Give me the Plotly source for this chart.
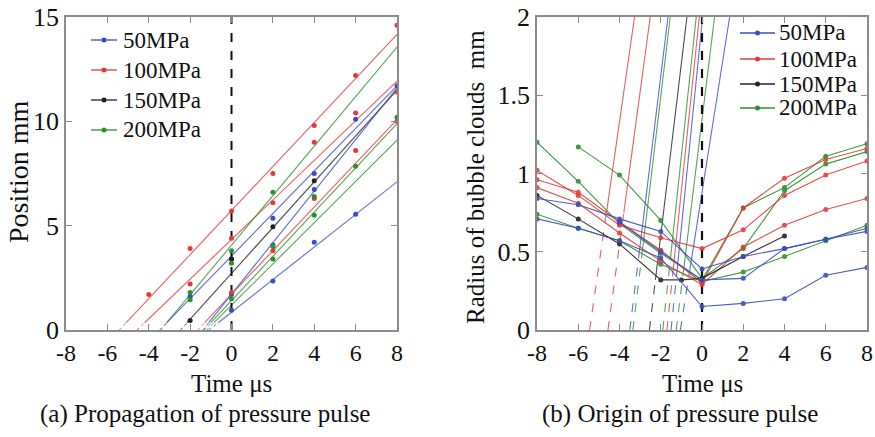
import plotly.graph_objects as go

# ---------------- data ----------------
series_names = ["50MPa", "100MPa", "150MPa", "200MPa"]
series_colors = ["#3b4cc0", "#e23b3b", "#222222", "#2f8f2f"]

time_ticks = [-8, -6, -4, -2, 0, 2, 4, 6, 8]
time_tick_labels = ["-8", "-6", "-4", "-2", "0", "2", "4", "6", "8"]
pos_ticks = [0, 5, 10, 15]
rad_ticks = [0, 0.5, 1, 1.5, 2]
rad_tick_labels = ["0", "0.5", "1", "1.5", "2"]

# (a) fitted propagation lines: series index, start time (at y=0.35), position at t=8
fit_series = [1, 1, 3, 0, 2, 1, 0, 3, 3, 0]
fit_start_t = [-5.09, -4.2, -3.13, -3.13, -2.15, -1.3, -1.1, -1.0, -0.85, -0.64]
fit_end_pos = [14.17, 11.93, 13.56, 11.7, 11.5, 10.08, 11.6, 9.89, 9.1, 7.1]
fit_start_pos = 0.35

# (a) measured points per series
pos_t_50 = [-2, 0, 2, 4, 6, 8, 0, 2, 4, 0, 2, 4, 6]
pos_y_50 = [1.6, 3.4, 5.35, 7.5, 10.1, 11.7, 1.7, 4.07, 6.73, 0.95, 2.35, 4.2, 5.55]
pos_t_100 = [-4, -2, 0, 2, 4, 6, 8, -2, 0, 2, 4, 6, 8, 0, 2, 4, 6, 8]
pos_y_100 = [1.7, 3.9, 5.7, 7.5, 9.8, 12.2, 14.6, 2.2, 4.4, 6.1, 9.0, 10.4, 11.4, 1.8, 3.8, 6.3, 8.6, 10.0]
pos_t_150 = [-2, 0, 2, 4]
pos_y_150 = [0.45, 3.4, 4.95, 7.15]
pos_t_200 = [-2, -2, 0, 0, 2, 0, 2, 4, 6, 8, 2, 4]
pos_y_200 = [1.8, 1.45, 3.8, 3.2, 6.6, 1.5, 3.4, 5.5, 7.85, 10.2, 4.0, 6.4]

# (b) radius curves: series index, times, radii
rad_series = [3, 3, 3, 1, 1, 1, 2, 0, 0, 0]
rad_t = [
    [-8, -6, -4, -2, 0, 2, 4, 6, 8],
    [-6, -4, -2, 0, 2, 4, 6, 8],
    [-8, -6, -4, -2, 0, 2, 4, 6, 8],
    [-8, -6, -4, -2, 0, 2, 4, 6, 8],
    [-8, -6, -4, -2, 0, 2, 4, 6, 8],
    [-8, -6, -4, -2, 0, 2, 4, 6, 8],
    [-8, -6, -4, -2, -1, 0, 2, 4],
    [-8, -6, -4, -2, 0, 2, 4, 6, 8],
    [-8, -6, -4, -2, 0, 2, 4, 6, 8],
    [-4, -2, 0, 2, 4, 6, 8],
]
rad_r = [
    [1.20, 0.95, 0.68, 0.49, 0.32, 0.78, 0.91, 1.11, 1.19],
    [1.17, 0.99, 0.70, 0.33, 0.52, 0.89, 1.06, 1.14],
    [0.74, 0.65, 0.57, 0.42, 0.31, 0.37, 0.47, 0.57, 0.67],
    [1.02, 0.86, 0.67, 0.59, 0.52, 0.64, 0.86, 0.99, 1.08],
    [0.96, 0.88, 0.69, 0.51, 0.30, 0.78, 0.97, 1.09, 1.16],
    [0.91, 0.81, 0.62, 0.44, 0.29, 0.53, 0.67, 0.77, 0.84],
    [0.86, 0.71, 0.55, 0.32, 0.32, 0.33, 0.47, 0.60],
    [0.84, 0.80, 0.71, 0.63, 0.39, 0.47, 0.52, 0.58, 0.63],
    [0.71, 0.65, 0.57, 0.46, 0.15, 0.17, 0.20, 0.35, 0.40],
    [0.69, 0.50, 0.32, 0.33, 0.52, 0.58, 0.65],
]

# (b) steep origin lines: series index, time at r=0, time at r=2, radius where dashes end
orig_series = [1, 1, 0, 3, 2, 3, 1, 0, 3, 0]
orig_t_bottom = [-5.45, -4.56, -3.5, -3.35, -2.55, -1.9, -1.7, -1.5, -1.25, -1.05]
orig_t_top = [-3.27, -2.51, -1.65, -1.54, -0.73, -0.28, -0.13, 0.03, 0.61, 1.34]
orig_r_break = [0.75, 0.75, 0.5, 0.5, 0.32, 0.45, 0.4, 0.38, 0.35, 0.35]

# ---------------- figure ----------------
FONT = "Liberation Serif, Times New Roman, serif"
W, H = 875, 437
fig = go.Figure()

# (a) dashed extensions and fitted lines
for s, t0, y8 in zip(fit_series, fit_start_t, fit_end_pos):
    slope = (y8 - fit_start_pos) / (8 - t0)
    t_int = t0 - fit_start_pos / slope
    c = series_colors[s]
    fig.add_trace(go.Scatter(x=[t_int, t0], y=[0, fit_start_pos], mode="lines",
                             line=dict(color=c, width=1, dash="dot"), opacity=0.75,
                             showlegend=False, hoverinfo="skip", xaxis="x", yaxis="y"))
    fig.add_trace(go.Scatter(x=[t0, 8], y=[fit_start_pos, y8], mode="lines",
                             line=dict(color=c, width=1.2), opacity=0.75,
                             showlegend=False, hoverinfo="skip", xaxis="x", yaxis="y"))

fig.add_trace(go.Scatter(x=[0, 0], y=[0, 15], mode="lines",
                         line=dict(color="#111111", width=2, dash="dash"),
                         showlegend=False, hoverinfo="skip", xaxis="x", yaxis="y"))

pts = [(pos_t_50, pos_y_50), (pos_t_100, pos_y_100), (pos_t_150, pos_y_150), (pos_t_200, pos_y_200)]
for i, (tx, ty) in enumerate(pts):
    fig.add_trace(go.Scatter(x=tx, y=ty, mode="markers",
                             marker=dict(color=series_colors[i], size=5),
                             showlegend=False, xaxis="x", yaxis="y"))

# (b) steep origin lines
for s, tb, tt, rb in zip(orig_series, orig_t_bottom, orig_t_top, orig_r_break):
    c = series_colors[s]
    t_break = tb + (tt - tb) * rb / 2.0
    fig.add_trace(go.Scatter(x=[tb, t_break], y=[0, rb], mode="lines",
                             line=dict(color=c, width=1.1, dash="dash"), opacity=0.8,
                             showlegend=False, hoverinfo="skip", xaxis="x2", yaxis="y2"))
    fig.add_trace(go.Scatter(x=[t_break, tt], y=[rb, 2], mode="lines",
                             line=dict(color=c, width=1.1), opacity=0.8,
                             showlegend=False, hoverinfo="skip", xaxis="x2", yaxis="y2"))

fig.add_trace(go.Scatter(x=[0, 0], y=[0, 2], mode="lines",
                         line=dict(color="#111111", width=2.2, dash="dash"),
                         showlegend=False, hoverinfo="skip", xaxis="x2", yaxis="y2"))

for s, tx, ry in zip(rad_series, rad_t, rad_r):
    fig.add_trace(go.Scatter(x=tx, y=ry, mode="lines+markers",
                             line=dict(color=series_colors[s], width=1.1),
                             marker=dict(color=series_colors[s], size=5), opacity=0.9,
                             showlegend=False, xaxis="x2", yaxis="y2"))

# ---- manual legends (paper coordinates, pixel based) ----
shapes = []
annotations = []


def add_legend(x_line0, x_line1, x_text, rows_y):
    for i, name in enumerate(series_names):
        yp = 1 - rows_y[i] / H
        c = series_colors[i]
        shapes.append(dict(type="line", xref="paper", yref="paper",
                           x0=x_line0 / W, x1=x_line1 / W, y0=yp, y1=yp,
                           line=dict(color=c, width=1.3)))
        xm = (x_line0 + x_line1) / 2
        shapes.append(dict(type="circle", xref="paper", yref="paper",
                           x0=(xm - 2.5) / W, x1=(xm + 2.5) / W,
                           y0=yp - 2.5 / H, y1=yp + 2.5 / H,
                           fillcolor=c, line=dict(color=c, width=0)))
        annotations.append(dict(text=name, x=x_text / W, y=yp, xref="paper", yref="paper",
                                xanchor="left", yanchor="middle", showarrow=False,
                                font=dict(family=FONT, size=23, color="#111")))


add_legend(91, 117, 121, [40, 70, 100, 130])
add_legend(740, 775, 777, [33, 59, 84, 108])

ax_common = dict(showline=True, mirror="ticks", linecolor="#8c8c8c", linewidth=1.5,
                 ticks="inside", ticklen=6, tickcolor="#8c8c8c", showgrid=False,
                 zeroline=False, automargin=False)
x_font = dict(family=FONT, size=24, color="#111")
y_font = dict(family=FONT, size=26, color="#111")


def txt(text, x, y, size, angle=0):
    return dict(text=text, x=x / W, y=1 - y / H, xref="paper", yref="paper",
                xanchor="center", yanchor="middle", textangle=angle, showarrow=False,
                font=dict(family=FONT, size=size, color="#111"))


annotations += [
    txt("Time μs", (66 + 397) / 2, 383, 25),
    txt("Time μs", (537 + 867) / 2, 383, 25),
    txt("Position mm", 18, 172, 28, -90),
    txt("Radius of bubble clouds  mm", 476, 177, 25, -90),
    txt("(a) Propagation of pressure pulse", 205, 414, 25),
    txt("(b) Origin of pressure pulse", 680, 414, 25),
]

ydom = [1 - 330 / H, 1 - 17 / H]
fig.update_layout(
    width=W, height=H, margin=dict(l=0, r=0, t=0, b=0, autoexpand=False),
    paper_bgcolor="white", plot_bgcolor="white", showlegend=False,
    font=dict(family=FONT, color="#111"),
    xaxis=dict(domain=[66 / W, 397 / W], range=[-8, 8], tickvals=time_ticks,
               ticktext=time_tick_labels, anchor="y", tickfont=x_font, **ax_common),
    yaxis=dict(domain=ydom, range=[0, 15], tickvals=pos_ticks, anchor="x",
               tickfont=y_font, **ax_common),
    xaxis2=dict(domain=[537 / W, 867 / W], range=[-8, 8], tickvals=time_ticks,
                ticktext=time_tick_labels, anchor="y2", tickfont=x_font, **ax_common),
    yaxis2=dict(domain=ydom, range=[0, 2], tickvals=rad_ticks,
                ticktext=rad_tick_labels, anchor="x2", tickfont=y_font, **ax_common),
    shapes=shapes,
    annotations=annotations,
)

fig.write_html("out.html", config={"displayModeBar": False},
               post_script="document.body.style.margin='0px';document.body.style.overflow='hidden';")
